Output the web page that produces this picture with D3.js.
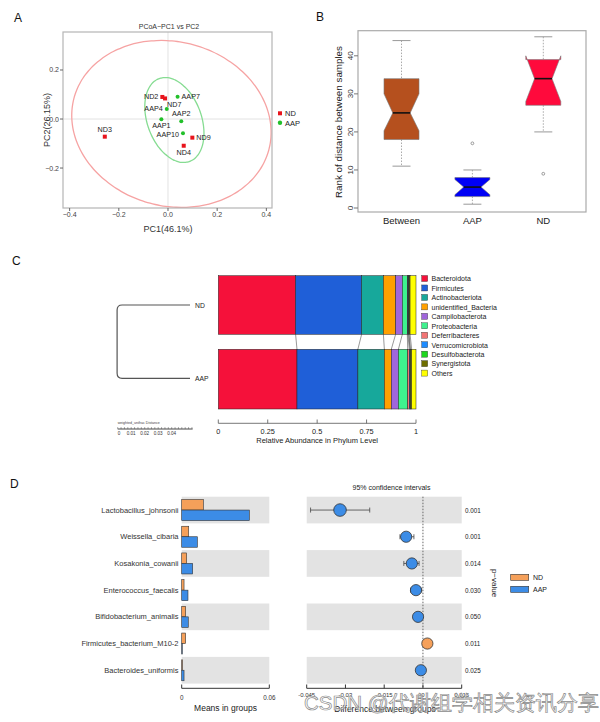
<!DOCTYPE html>
<html><head><meta charset="utf-8">
<script src="https://cdn.jsdelivr.net/npm/d3@7"></script>
<style>body{margin:0;background:#fff}svg{display:block}text{font-family:"Liberation Sans",Arial,sans-serif}</style>
</head><body><svg id="c" width="600" height="722"></svg>
<script>
// ---------- Panel A data (PCoA) ----------
const pcoaSamples = ["ND2","ND7","AAP7","AAP4","AAP1","AAP2","AAP10","ND9","ND4","ND3"];
const pcoaGroup   = ["ND","ND","AAP","AAP","AAP","AAP","AAP","ND","ND","ND"];
const pcoaPC1     = [-0.023,-0.012,0.039,-0.005,-0.027,0.054,0.061,0.099,0.064,-0.257];
const pcoaPC2     = [0.090,0.084,0.091,0.041,-0.001,-0.009,-0.058,-0.076,-0.109,-0.072];
const pcoaXTicks  = [-0.4,-0.2,0.0,0.2,0.4];
const pcoaYTicks  = [-0.2,0.0,0.2];
const ellGroup = ["ND","AAP"];
const ellCx = [0.014,0.026], ellCy = [-0.020,-0.004];
const ellA = [0.41,0.18], ellB = [0.335,0.11], ellAngle = [-15,-70];
// ---------- Panel B data (box plot) ----------
const boxCats = ["Between","AAP","ND"];
const boxMin = [11,1,20], boxQ1 = [18,3,27], boxMed = [25,5.5,34], boxQ3 = [34,8,39], boxMax = [44,10,45];
const boxNotchLo = [20.3,3.5,28], boxNotchHi = [30,7.5,40];
const boxOutliers = [[],[17],[9]];
const boxYTicks = [0,10,20,30,40];
// ---------- Panel C data (phylum) ----------
const phyla = ["Bacteroidota","Firmicutes","Actinobacteriota","unidentified_Bacteria","Campilobacterota","Proteobacteria","Deferribacteres","Verrucomicrobiota","Desulfobacterota","Synergistota","Others"];
const abundND  = [0.391,0.334,0.110,0.062,0.034,0.025,0.003,0.004,0.002,0.005,0.030];
const abundAAP = [0.398,0.308,0.134,0.035,0.036,0.047,0.008,0.004,0.002,0.006,0.022];
const phylaGroups = ["ND","AAP"];
const abundTicks = [0,0.25,0.5,0.75,1];
const dendroHeight = 0.054;
const distTicks = [0,0.01,0.02,0.03,0.04];
// ---------- Panel D data (STAMP) ----------
const species = ["Lactobacillus_johnsonii","Weissella_cibaria","Kosakonia_cowanii","Enterococcus_faecalis","Bifidobacterium_animalis","Firmicutes_bacterium_M10-2","Bacteroides_uniformis"];
const meanND  = [0.0148,0.0048,0.0034,0.0016,0.0027,0.0027,0.0005];
const meanAAP = [0.0463,0.0107,0.0075,0.0043,0.0045,0.0004,0.0016];
const diffVal = [-0.0321,-0.0065,-0.0043,-0.0027,-0.0019,0.0017,-0.0008];
const ciLo    = [-0.0435,-0.0089,-0.0074,-0.0048,-0.0035,0.0004,-0.0018];
const ciHi    = [-0.0206,-0.0035,-0.0015,-0.0005,-0.0005,0.0027,0.0000];
const pValues = ["0.001","0.001","0.014","0.030","0.050","0.011","0.025"];
const meanTicks = [0,0.06];
const diffTicks = [-0.045,-0.03,-0.015,0,0.015];

const svg = d3.select("#c");
const letter = (t,x,y)=>svg.append("text").attr("x",x).attr("y",y).attr("font-size",12).attr("fill","#111").text(t);

// ================= Panel A =================
(function(){
  const g = svg.append("g");
  const x = d3.scaleLinear().domain([-0.427,0.423]).range([63,272]);
  const y = d3.scaleLinear().domain([-0.363,0.355]).range([208,32]);
  const col = {ND:"#e8141c", AAP:"#22c02a"};
  const ellCol = {ND:"#f6a3a3", AAP:"#86dc92"};
  g.append("line").attr("x1",x(0)).attr("x2",x(0)).attr("y1",32).attr("y2",208).attr("stroke","#e2e2e2");
  g.append("line").attr("x1",63).attr("x2",272).attr("y1",y(0)).attr("y2",y(0)).attr("stroke","#e2e2e2");
  ellGroup.forEach((gr,i)=>{
    const th = ellAngle[i]*Math.PI/180;
    const pts = d3.range(0,361,3).map(d=>{const t=d*Math.PI/180;
      return [x(ellCx[i]+ellA[i]*Math.cos(t)*Math.cos(th)-ellB[i]*Math.sin(t)*Math.sin(th)),
              y(ellCy[i]+ellA[i]*Math.cos(t)*Math.sin(th)+ellB[i]*Math.sin(t)*Math.cos(th))];});
    g.append("path").attr("d",d3.line().curve(d3.curveCardinalClosed)(pts)).attr("fill","none").attr("stroke",ellCol[gr]).attr("stroke-width",1.3);
  });
  g.append("rect").attr("x",63).attr("y",32).attr("width",209).attr("height",176).attr("fill","none").attr("stroke","#b5b5b5").attr("stroke-width",1.2);
  const labPos = {ND2:[-4,0,"end",2.5],ND7:[2,6,"start",3],AAP7:[4,0,"start",2.5],AAP4:[-4,0,"end",2.5],AAP1:[0,9,"middle",0],AAP2:[0,-5,"middle",0],AAP10:[-4,1,"end",2.5],ND9:[4,0,"start",2.5],ND4:[0,9,"middle",0],ND3:[0,-5,"middle",0]};
  pcoaSamples.forEach((s,i)=>{
    const px=x(pcoaPC1[i]), py=y(pcoaPC2[i]);
    if(pcoaGroup[i]==="ND") g.append("rect").attr("x",px-2).attr("y",py-2).attr("width",4).attr("height",4).attr("fill",col.ND);
    else g.append("circle").attr("cx",px).attr("cy",py).attr("r",2).attr("fill",col.AAP);
    const lp=labPos[s];
    g.append("text").attr("x",px+lp[0]).attr("y",py+lp[1]+lp[3]).attr("text-anchor",lp[2]).attr("font-size",7.2).attr("fill","#222").text(s);
  });
  pcoaXTicks.forEach(t=>{
    g.append("line").attr("x1",x(t)).attr("x2",x(t)).attr("y1",208).attr("y2",211).attr("stroke","#666");
    g.append("text").attr("x",x(t)).attr("y",216.5).attr("text-anchor","middle").attr("font-size",7).attr("fill","#444").text(d3.format(".1f")(t).replace("-","−"));
  });
  pcoaYTicks.forEach(t=>{
    g.append("line").attr("x1",60).attr("x2",63).attr("y1",y(t)).attr("y2",y(t)).attr("stroke","#666");
    g.append("text").attr("x",59).attr("y",y(t)+2.5).attr("text-anchor","end").attr("font-size",7).attr("fill","#444").text(d3.format(".1f")(t).replace("-","−"));
  });
  g.append("text").attr("x",169).attr("y",29).attr("text-anchor","middle").attr("font-size",7).attr("fill","#333").text("PCoA−PC1 vs PC2");
  g.append("text").attr("x",168).attr("y",232).attr("text-anchor","middle").attr("font-size",9).attr("fill","#333").text("PC1(46.1%)");
  g.append("text").attr("transform","translate(50,120) rotate(-90)").attr("text-anchor","middle").attr("font-size",9).attr("fill","#333").text("PC2(26.15%)");
  g.append("rect").attr("x",278).attr("y",111.3).attr("width",4).attr("height",4).attr("fill",col.ND);
  g.append("text").attr("x",285).attr("y",116).attr("font-size",7.5).attr("fill","#222").text("ND");
  g.append("circle").attr("cx",280).attr("cy",122.7).attr("r",2.2).attr("fill",col.AAP);
  g.append("text").attr("x",285).attr("y",125.5).attr("font-size",7.5).attr("fill","#222").text("AAP");
  letter("A",14,22);
})();

// ================= Panel B =================
(function(){
  const g = svg.append("g");
  const x = d3.scalePoint().domain(boxCats).range([401.5,543.3]);
  const y = d3.scaleLinear().domain([-1.05,46.6]).range([212,30.7]);
  const fills = ["#b5501e","#0000f5","#ff0a3c"];
  const w = 17.5, nw = 8.7;
  boxCats.forEach((c,i)=>{
    const cx = x(c);
    g.append("line").attr("x1",cx).attr("x2",cx).attr("y1",y(boxMax[i])).attr("y2",y(boxQ3[i])).attr("stroke","#aaa").attr("stroke-dasharray","1.5,1.5");
    g.append("line").attr("x1",cx).attr("x2",cx).attr("y1",y(boxQ1[i])).attr("y2",y(boxMin[i])).attr("stroke","#aaa").attr("stroke-dasharray","1.5,1.5");
    [boxMax[i],boxMin[i]].forEach(v=>g.append("line").attr("x1",cx-9).attr("x2",cx+9).attr("y1",y(v)).attr("y2",y(v)).attr("stroke","#999"));
    const pts = [[cx-w,y(boxQ1[i])],[cx+w,y(boxQ1[i])],[cx+w,y(boxNotchLo[i])],[cx+nw,y(boxMed[i])],[cx+w,y(boxNotchHi[i])],[cx+w,y(boxQ3[i])],
                 [cx-w,y(boxQ3[i])],[cx-w,y(boxNotchHi[i])],[cx-nw,y(boxMed[i])],[cx-w,y(boxNotchLo[i])]];
    g.append("path").attr("d",d3.line()(pts)+"Z").attr("fill",fills[i]).attr("stroke","#777").attr("stroke-width",0.6);
    g.append("line").attr("x1",cx-nw).attr("x2",cx+nw).attr("y1",y(boxMed[i])).attr("y2",y(boxMed[i])).attr("stroke","#111").attr("stroke-width",1.6);
    boxOutliers[i].forEach(v=>g.append("circle").attr("cx",cx).attr("cy",y(v)).attr("r",1.4).attr("fill","none").attr("stroke","#999"));
    g.append("text").attr("x",cx).attr("y",224).attr("text-anchor","middle").attr("font-size",9.5).attr("fill","#222").text(c);
  });
  g.append("rect").attr("x",358).attr("y",30.7).attr("width",228).attr("height",181.3).attr("fill","none").attr("stroke","#aaa").attr("stroke-width",1.2);
  boxYTicks.forEach(t=>{
    g.append("line").attr("x1",354).attr("x2",358).attr("y1",y(t)).attr("y2",y(t)).attr("stroke","#777");
    g.append("text").attr("transform",`translate(353,${y(t)}) rotate(-90)`).attr("text-anchor","middle").attr("font-size",8).attr("fill","#333").text(t);
  });
  g.append("text").attr("transform","translate(342,122) rotate(-90)").attr("text-anchor","middle").attr("font-size",9.8).attr("fill","#222").text("Rank of distance between samples");
  letter("B",316,21);
})();

// ================= Panel C =================
(function(){
  const g = svg.append("g").attr("font-family","'DejaVu Sans',sans-serif");
  const x = d3.scaleLinear().domain([0,1]).range([218.3,416]);
  const cols = ["#f5113a","#1f5fd8","#17a89b","#ffa000","#a066dc","#3ef28e","#f27474","#1e8cff","#1ed61e","#6e6e00","#ffff00"];
  const barY = {ND:[275.7,334.3], AAP:[349.3,409]};
  const data = {ND:abundND, AAP:abundAAP};
  const cum = {};
  phylaGroups.forEach(gr=>{
    let acc=0; cum[gr]=[];
    data[gr].forEach((v,i)=>{
      g.append("rect").attr("x",x(acc)).attr("y",barY[gr][0]).attr("width",x(acc+v)-x(acc)).attr("height",barY[gr][1]-barY[gr][0])
        .attr("fill",cols[i]).attr("stroke","#222").attr("stroke-width",0.5);
      acc+=v; cum[gr].push(acc);
    });
  });
  cum.ND.slice(0,-1).forEach((v,i)=>{
    g.append("line").attr("x1",x(v)).attr("x2",x(cum.AAP[i])).attr("y1",barY.ND[1]).attr("y2",barY.AAP[0]).attr("stroke","#333").attr("stroke-width",0.5);
  });
  g.append("line").attr("x1",x(0)).attr("x2",x(1)).attr("y1",423.3).attr("y2",423.3).attr("stroke","#555").attr("stroke-width",0.8);
  abundTicks.forEach(t=>{
    g.append("line").attr("x1",x(t)).attr("x2",x(t)).attr("y1",419.5).attr("y2",423.3).attr("stroke","#555").attr("stroke-width",0.8);
    g.append("text").attr("x",x(t)).attr("y",433.5).attr("text-anchor","middle").attr("font-size",7.3).attr("fill","#222").text(t);
  });
  g.append("text").attr("x",x(0.5)).attr("y",442.5).attr("text-anchor","middle").attr("font-size",7.5).attr("fill","#222").text("Relative Abundance in Phylum Level");
  phyla.forEach((p,i)=>{
    const yy = 278.7 + i*9.46;
    g.append("rect").attr("x",421.7).attr("y",yy-3.2).attr("width",6).attr("height",6).attr("fill",cols[i]).attr("stroke","#333").attr("stroke-width",0.4);
    g.append("text").attr("x",431.5).attr("y",yy+2.6).attr("font-size",7).attr("fill","#222").text(p);
  });
  const dx = d3.scaleLinear().domain([0,0.01]).range([0,13.5]);
  const leafX = 190, rootX = leafX - dx(dendroHeight);
  const yND = 305, yAAP = 378.3, r = 5;
  g.append("path").attr("d",`M${leafX},${yND}H${rootX+r}Q${rootX},${yND} ${rootX},${yND+r}V${yAAP-r}Q${rootX},${yAAP} ${rootX+r},${yAAP}H${leafX}`)
    .attr("fill","none").attr("stroke","#555").attr("stroke-width",1.2);
  g.append("text").attr("x",195).attr("y",307.5).attr("font-size",6.8).attr("fill","#222").text("ND");
  g.append("text").attr("x",195).attr("y",381).attr("font-size",6.8).attr("fill","#222").text("AAP");
  const sx0 = 117.7;
  g.append("text").attr("x",sx0).attr("y",424).attr("font-size",3.6).attr("fill","#444").text("weighted_unifrac Distance");
  g.append("line").attr("x1",sx0).attr("x2",sx0+dx(0.0555)).attr("y1",429).attr("y2",429).attr("stroke","#333").attr("stroke-width",0.9);
  d3.range(0,0.05551,0.0025).forEach(t=>g.append("line").attr("x1",sx0+dx(t)).attr("x2",sx0+dx(t)).attr("y1",427).attr("y2",429).attr("stroke","#333").attr("stroke-width",0.4));
  distTicks.forEach(t=>g.append("text").attr("x",sx0+dx(t)).attr("y",434.5).attr("text-anchor",t===0?"start":"middle").attr("font-size",4.6).attr("fill","#333").text(t));
  letter("C",12,265);
})();

// ================= Panel D =================
(function(){
  const g = svg.append("g");
  const yb = d3.scaleBand().domain(species).range([496.7,683.6]);
  const xm = d3.scaleLinear().domain([0,0.06]).range([181.7,269.3]);
  const xd = d3.scaleLinear().domain([-0.045,0.015]).range([306.7,461.7]);
  const cND = "#f5a05a", cAAP = "#3c8ce6";
  species.forEach((s,i)=>{
    const y0 = yb(s), h = yb.bandwidth(), mid = y0+h/2;
    if(i%2===0){
      g.append("rect").attr("x",xm(0)).attr("y",y0).attr("width",xm(0.06)-xm(0)).attr("height",h).attr("fill","#e3e3e3");
      g.append("rect").attr("x",xd(-0.045)).attr("y",y0).attr("width",xd(0.015)-xd(-0.045)).attr("height",h).attr("fill","#e3e3e3");
    }
    g.append("rect").attr("x",xm(0)).attr("y",mid-10.5).attr("width",xm(meanND[i])-xm(0)).attr("height",10.5).attr("fill",cND).attr("stroke","#333").attr("stroke-width",0.6);
    g.append("rect").attr("x",xm(0)).attr("y",mid).attr("width",xm(meanAAP[i])-xm(0)).attr("height",10.5).attr("fill",cAAP).attr("stroke","#333").attr("stroke-width",0.6);
    g.append("text").attr("x",178.5).attr("y",mid+2.5).attr("text-anchor","end").attr("font-size",7.5).attr("fill","#333").text(s);
    g.append("text").attr("x",465).attr("y",mid+2.5).attr("font-size",6.3).attr("fill","#222").text(pValues[i]);
  });
  g.append("line").attr("x1",xd(0)).attr("x2",xd(0)).attr("y1",496.7).attr("y2",688.3).attr("stroke","#666").attr("stroke-dasharray","1.5,1.5");
  species.forEach((s,i)=>{
    const mid = yb(s)+yb.bandwidth()/2;
    g.append("line").attr("x1",xd(ciLo[i])).attr("x2",xd(ciHi[i])).attr("y1",mid).attr("y2",mid).attr("stroke","#444").attr("stroke-width",0.8);
    [ciLo[i],ciHi[i]].forEach(v=>g.append("line").attr("x1",xd(v)).attr("x2",xd(v)).attr("y1",mid-2.5).attr("y2",mid+2.5).attr("stroke","#444").attr("stroke-width",0.8));
    g.append("circle").attr("cx",xd(diffVal[i])).attr("cy",mid).attr("r",i===0?6.3:5.6).attr("fill",diffVal[i]>0?cND:cAAP).attr("stroke","#333").attr("stroke-width",0.8);
  });
  g.append("line").attr("x1",xm(0)).attr("x2",xm(0.06)).attr("y1",688.3).attr("y2",688.3).attr("stroke","#333");
  meanTicks.forEach(t=>{
    g.append("line").attr("x1",xm(t)).attr("x2",xm(t)).attr("y1",684.5).attr("y2",688.3).attr("stroke","#333");
    g.append("text").attr("x",xm(t)).attr("y",700).attr("text-anchor","middle").attr("font-size",6.3).attr("fill","#333").text(t);
  });
  g.append("text").attr("x",225.5).attr("y",711).attr("text-anchor","middle").attr("font-size",8.5).attr("fill","#222").text("Means in groups");
  g.append("line").attr("x1",xd(-0.045)).attr("x2",xd(0.015)).attr("y1",688.3).attr("y2",688.3).attr("stroke","#333");
  diffTicks.forEach(t=>{
    g.append("line").attr("x1",xd(t)).attr("x2",xd(t)).attr("y1",684.5).attr("y2",688.3).attr("stroke","#333");
    g.append("text").attr("x",xd(t)).attr("y",697).attr("text-anchor","middle").attr("font-size",6).attr("fill","#333").text(t);
  });
  g.append("text").attr("x",385).attr("y",712).attr("text-anchor","middle").attr("font-size",8.5).attr("fill","#222").text("Difference between groups");
  g.append("text").attr("x",391.5).attr("y",490).attr("text-anchor","middle").attr("font-size",7).attr("fill","#222").text("95% confidence intervals");
  g.append("text").attr("transform","translate(492,583) rotate(90)").attr("text-anchor","middle").attr("font-size",8).attr("fill","#222").text("p−value");
  g.append("rect").attr("x",510.7).attr("y",574.3).attr("width",18).attr("height",6).attr("fill",cND).attr("stroke","#333").attr("stroke-width",0.6);
  g.append("rect").attr("x",510.7).attr("y",586.3).attr("width",18).attr("height",6).attr("fill",cAAP).attr("stroke","#333").attr("stroke-width",0.6);
  g.append("text").attr("x",533).attr("y",580.3).attr("font-size",7).attr("fill","#222").text("ND");
  g.append("text").attr("x",533).attr("y",592.3).attr("font-size",7).attr("fill","#222").text("AAP");
  letter("D",10,488);
  svg.append("text").attr("x",304).attr("y",710).attr("font-size",20.5).attr("font-family","'Noto Sans CJK SC',sans-serif")
    .attr("fill","#ffffff").attr("fill-opacity",0.6).attr("stroke","#8a8a8a").attr("stroke-width",0.7).text("CSDN @代谢组学相关资讯分享");
})();
</script></body></html>
